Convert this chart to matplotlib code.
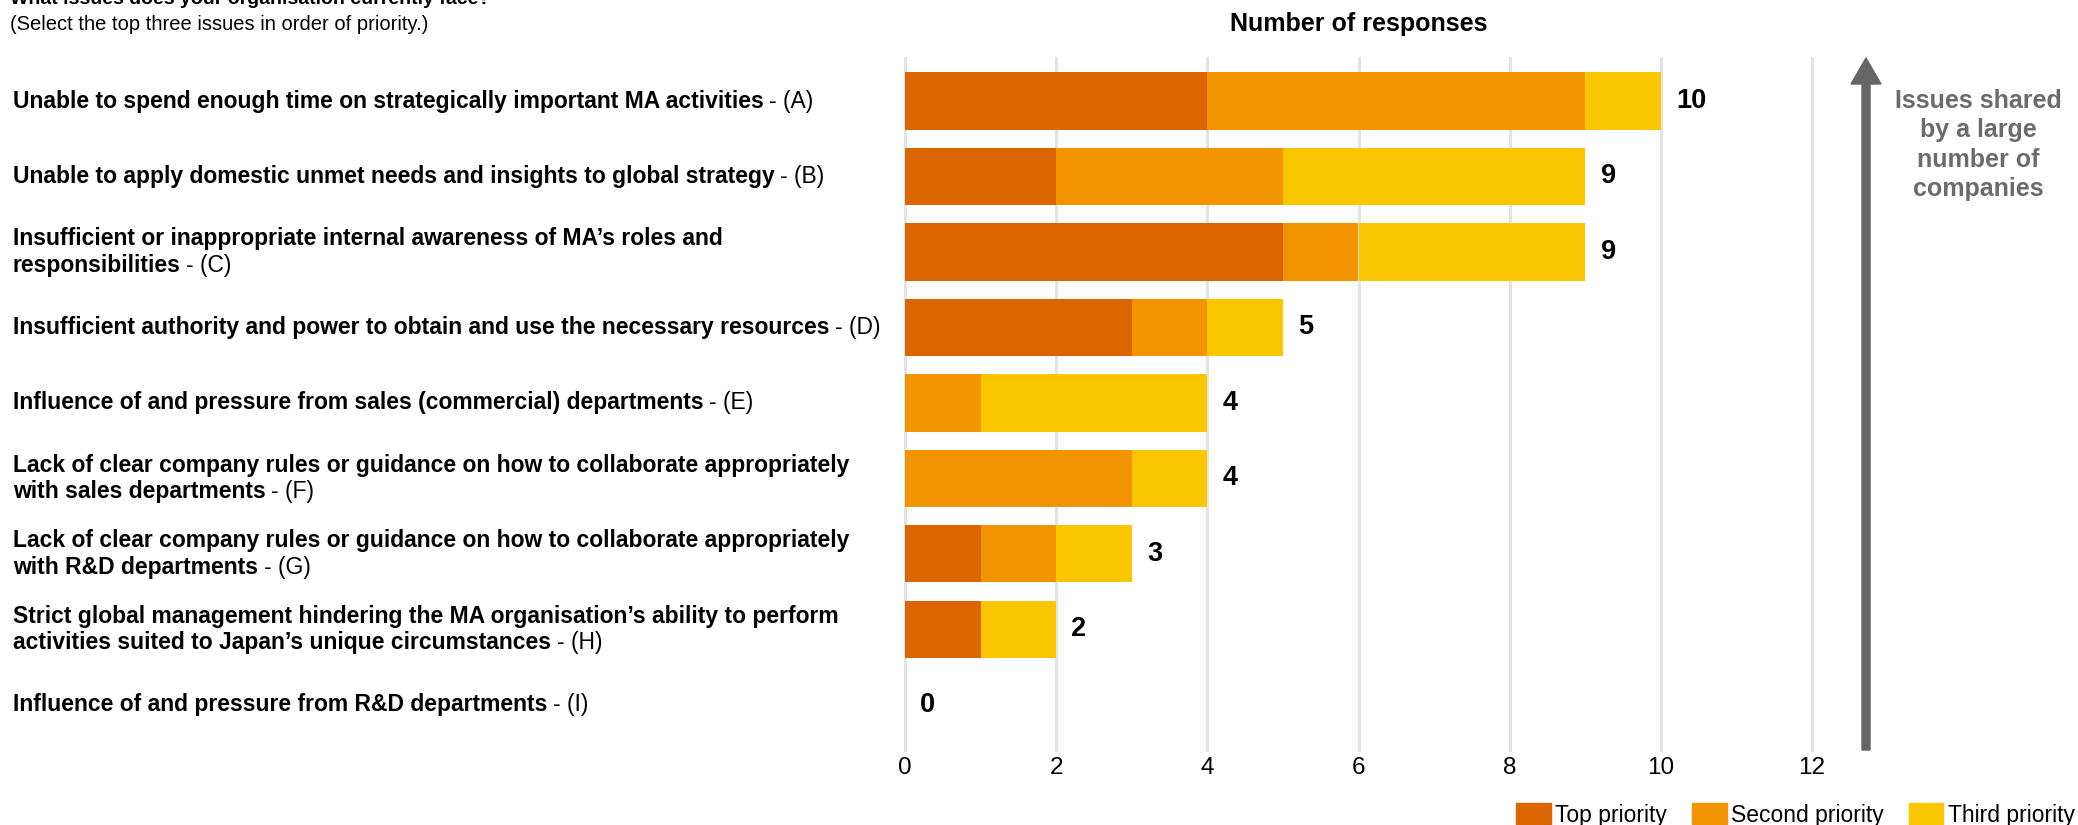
import matplotlib.pyplot as plt
from matplotlib.patches import FancyArrow, Patch
from matplotlib.transforms import IdentityTransform, blended_transform_factory

plt.rcParams['font.family'] = ['Liberation Sans', 'DejaVu Sans']

issue_lines = [
    ['Unable to spend enough time on strategically important MA activities'],
    ['Unable to apply domestic unmet needs and insights to global strategy'],
    ['Insufficient or inappropriate internal awareness of MA\u2019s roles and',
     'responsibilities'],
    ['Insufficient authority and power to obtain and use the necessary resources'],
    ['Influence of and pressure from sales (commercial) departments'],
    ['Lack of clear company rules or guidance on how to collaborate appropriately',
     'with sales departments'],
    ['Lack of clear company rules or guidance on how to collaborate appropriately',
     'with R&D departments'],
    ['Strict global management hindering the MA organisation\u2019s ability to perform',
     'activities suited to Japan\u2019s unique circumstances'],
    ['Influence of and pressure from R&D departments'],
]
issue_codes = ['A', 'B', 'C', 'D', 'E', 'F', 'G', 'H', 'I']

top_priority = [4, 2, 5, 3, 0, 0, 1, 1, 0]
second_priority = [5, 3, 1, 1, 1, 3, 1, 0, 0]
third_priority = [1, 4, 3, 1, 3, 1, 1, 1, 0]
totals = [10, 9, 9, 5, 4, 4, 3, 2, 0]

series_names = ['Top priority', 'Second priority', 'Third priority']
colors = ['#DB6600', '#F29400', '#F9C600']

W, H = 2078, 825
fig = plt.figure(figsize=(W / 100, H / 100), dpi=100)
ax = fig.add_axes([905 / W, 75 / H, (1812 - 905) / W, (750 - 58) / H])

y = list(range(len(issue_codes)))
left = [0] * len(y)
for vals, col in zip([top_priority, second_priority, third_priority], colors):
    ax.barh(y, vals, left=left, height=0.76, color=col, zorder=3)
    left = [l + v for l, v in zip(left, vals)]

for yi, tot in zip(y, totals):
    ax.annotate(str(tot), xy=(tot, yi), xytext=(11, 0), textcoords='offset points',
                va='center', ha='left', fontsize=19.5, fontweight='bold', zorder=4)

ax.set_xlim(0, 12)
ax.set_ylim(8.6, -0.57)
ax.set_xticks(range(0, 13, 2))
ax.set_yticks([])
ax.grid(axis='x', color='#e3e3e3', linewidth=2.2, zorder=0)
for gl in ax.get_xgridlines():
    gl.set_clip_on(False)
for sp in ax.spines.values():
    sp.set_visible(False)
ax.tick_params(axis='x', length=0, labelsize=17.5, pad=5)

# issue labels on the left: bold text plus regular "- (X)" suffix
trans = blended_transform_factory(fig.transFigure, ax.transData)
line_gap = 0.35
for yi, lines, code in zip(y, issue_lines, issue_codes):
    n = len(lines)
    last = None
    for k, line in enumerate(lines):
        ly = yi + (k - (n - 1) / 2) * line_gap
        last = fig.text(13 / W, ly, line, transform=trans, fontsize=16.5,
                        fontweight='bold', va='center', ha='left')
    ax.annotate('- (' + code + ')', xy=(1, 0.5), xycoords=last, xytext=(4, 0),
                textcoords='offset points', va='center', ha='left', fontsize=16.5)

fig.text(10 / W, 1 - 4 / H, 'What issues does your organisation currently face?',
         fontsize=14, fontweight='bold', va='baseline', ha='left')
fig.text(10 / W, 1 - 25 / H, '(Select the top three issues in order of priority.)',
         fontsize=14.5, va='center', ha='left')
fig.text(1359 / W, 1 - 24 / H, 'Number of responses', fontsize=18,
         fontweight='bold', va='center', ha='center')

# arrow on the right
arrow = FancyArrow(1866, H - 750, 0, 692, width=8, head_width=30, head_length=26,
                   length_includes_head=True, color='#666666',
                   transform=IdentityTransform())
fig.add_artist(arrow)
fig.text(1978 / W, 1 - 145 / H, 'Issues shared\nby a large\nnumber of\ncompanies',
         fontsize=18, fontweight='bold', color='#6b6b6b', ha='center', va='center',
         linespacing=1.27)

handles = [Patch(color=c, label=n) for c, n in zip(colors, series_names)]
fig.legend(handles=handles, loc='center right', bbox_to_anchor=(1.003, 1 - 815 / H),
           ncol=3, frameon=False, fontsize=16.5, handlelength=1.5, handleheight=1.0,
           handletextpad=0.2, columnspacing=1.1, borderaxespad=0)

fig.savefig('out.png', dpi=100)
